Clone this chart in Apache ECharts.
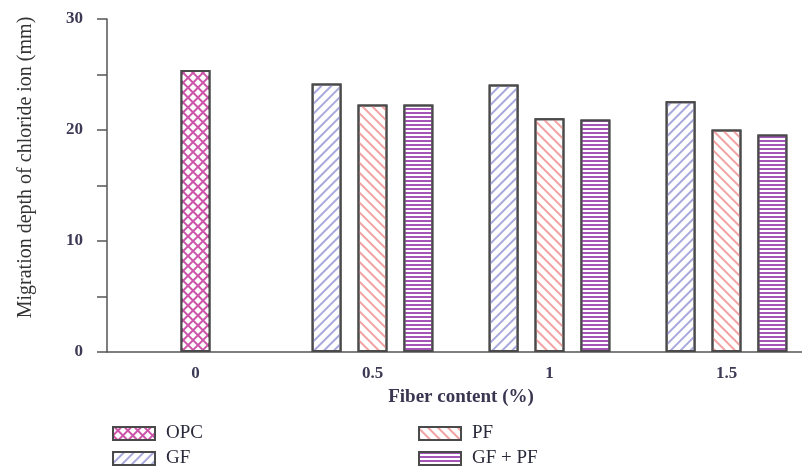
<!DOCTYPE html>
<html>
<head>
<meta charset="utf-8">
<script src="https://cdn.jsdelivr.net/npm/echarts@6/dist/echarts.min.js"></script>
<style>
  html, body { margin: 0; padding: 0; background: #fff; }
  #chart { width: 802px; height: 468px; }
</style>
</head>
<body>
<div id="chart"></div>
<script>
// fiber content categories and migration depths (mm)
var categories = ['0', '0.5', '1', '1.5']
var opcValues = [25.4, '-', '-', '-']
var gfValues = ['-', 24.2, 24.1, 22.6]
var pfValues = ['-', 22.3, 21.05, 20.05]
var gfpfValues = ['-', 22.3, 20.95, 19.6]
var yTicks = [0, 10, 20, 30]

var serif = '"Liberation Serif", "DejaVu Serif", serif'
var edge = '#4a4a4a'

var chart = echarts.init(document.getElementById('chart'))

function barSeries(name, data, fill, decal, stack) {
  return {
    name: name,
    type: 'bar',
    data: data,
    stack: stack,
    barWidth: 30,
    barGap: '53%',
    itemStyle: {
      color: fill,
      borderColor: edge,
      borderWidth: 2,
      decal: decal
    }
  }
}

// one legend per entry so the 2x2 layout matches
function legendAt(name, left, top) {
  return {
    left: left,
    top: top,
    icon: 'rect',
    itemWidth: 42,
    itemHeight: 13,
    textStyle: { fontFamily: serif, fontSize: 19, color: '#2a2a3a', padding: [0, 0, 0, 6] },
    data: [name]
  }
}

chart.setOption({
  animation: false,
  grid: {
    left: 107,
    width: 708,
    top: 19,
    bottom: 116,
    outerBoundsMode: 'none'
  },
  legend: [
    legendAt('OPC', 107, 419),
    legendAt('GF', 107, 444),
    legendAt('PF', 413, 419),
    legendAt('GF + PF', 413, 444)
  ],
  xAxis: {
    type: 'category',
    data: categories,
    name: 'Fiber content (%)',
    nameLocation: 'middle',
    nameGap: 36,
    nameTextStyle: { fontFamily: serif, fontSize: 19, fontWeight: 'bold', color: '#3a3550' },
    axisLine: { lineStyle: { color: '#555', width: 1.5 } },
    axisTick: { alignWithLabel: true, length: 6, lineStyle: { color: '#555', width: 1.5 } },
    axisLabel: { fontFamily: serif, fontSize: 17, fontWeight: 'bold', color: '#3d3a55', margin: 13 }
  },
  yAxis: {
    type: 'value',
    min: yTicks[0],
    max: yTicks[yTicks.length - 1],
    interval: 10,
    name: 'Migration depth of chloride ion (mm)',
    nameLocation: 'middle',
    nameGap: 71,
    nameTextStyle: { fontFamily: serif, fontSize: 20, color: '#333', padding: [0, 0, 0, 36] },
    axisLine: { show: true, lineStyle: { color: '#555', width: 1.5 } },
    axisTick: { show: true, length: 10, lineStyle: { color: '#555', width: 1.5 } },
    minorTick: { show: true, splitNumber: 2, length: 10, lineStyle: { color: '#555', width: 1.5 } },
    splitLine: { show: false },
    axisLabel: { fontFamily: serif, fontSize: 17, fontWeight: 'bold', color: '#3d3a55', margin: 24 }
  },
  series: [
    barSeries('GF', gfValues, '#fff', {
      color: '#a8a8dc', symbol: 'rect', dashArrayX: [1, 0], dashArrayY: [1.5, 4.5], rotation: -Math.PI / 4
    }),
    barSeries('OPC', opcValues, '#cc55aa', {
      color: '#fff', symbol: 'rect', dashArrayX: [4.5, 2], dashArrayY: [4.5, 2], rotation: Math.PI / 4
    }, 'mid'),
    barSeries('PF', pfValues, '#fff', {
      color: '#f2a2a2', symbol: 'rect', dashArrayX: [1, 0], dashArrayY: [1.5, 4.5], rotation: Math.PI / 4
    }, 'mid'),
    barSeries('GF + PF', gfpfValues, '#fff', {
      color: '#a555b8', symbol: 'rect', dashArrayX: [1, 0], dashArrayY: [1.5, 1.5], rotation: 0
    })
  ]
})
</script>
</body>
</html>
